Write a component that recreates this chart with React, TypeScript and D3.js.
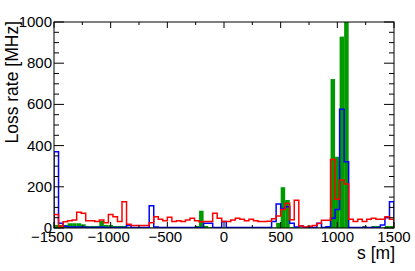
import { useEffect, useRef } from "react";
import * as d3 from "d3";

// 75 bins of 40 m, from -1500 m to 1500 m
const binWidth = 40;
const binLow = d3.range(-1500, 1500, binWidth);

// loss rate per bin [MHz]
const redRates = [
  66, 8, 30, 35, 39, 76, 71, 35, 35, 31, 39, 26, 66, 55, 31, 128, 18, 12, 12, 12,
  12, 25, 55, 42, 35, 52, 31, 35, 31, 39, 47, 35, 30, 31, 31, 71, 47, 31, 31, 39,
  47, 42, 35, 42, 35, 31, 31, 33, 45, 58, 90, 120, 40, 135, 10, 5, 8, 12, 22, 38,
  38, 333, 139, 233, 213, 42, 31, 42, 31, 42, 47, 42, 42, 55, 42,
];
const blueRates = [
  370, 23, 8, 5, 5, 5, 5, 3, 3, 3, 5, 3, 3, 3, 3, 3, 12, 3, 3, 3,
  3, 108, 5, 3, 3, 3, 3, 3, 3, 3, 3, 3, 3, 23, 23, 3, 3, 31, 3, 3,
  3, 3, 3, 3, 3, 3, 3, 3, 31, 117, 95, 103, 23, 5, 10, 3, 3, 3, 23, 3,
  6, 47, 90, 576, 322, 3, 3, 3, 3, 3, 3, 3, 15, 50, 128,
];
const greenRates = [
  15, 15, 15, 23, 23, 23, 18, 10, 10, 10, 34, 15, 15, 10, 10, 10, 5, 5, 5, 5,
  3, 3, 3, 5, 5, 3, 3, 3, 3, 3, 3, 10, 84, 10, 5, 3, 3, 3, 3, 3,
  3, 3, 3, 3, 3, 3, 3, 3, 3, 25, 198, 136, 5, 3, 3, 3, 3, 3, 3, 3,
  5, 723, 346, 929, 1200, 5, 3, 3, 10, 3, 10, 10, 3, 10, 10,
];

const xTicks = [-1500, -1000, -500, 0, 500, 1000, 1500];
const yTicks = [0, 200, 400, 600, 800, 1000];

const W = 415;
const H = 271;
const margin = { top: 22, right: 21, bottom: 43, left: 54 };
const FONT = "'Liberation Sans', Arial, Helvetica, sans-serif";

export default function App() {
  const ref = useRef<SVGSVGElement>(null);

  useEffect(() => {
    const svg = d3.select(ref.current);
    svg.selectAll("*").remove();

    const x0 = margin.left;
    const x1 = W - margin.right;
    const y0 = H - margin.bottom;
    const y1 = margin.top;

    const x = d3.scaleLinear().domain([-1500, 1500]).range([x0, x1]);
    const y = d3.scaleLinear().domain([0, 1000]).range([y0, y1]);

    svg.append("rect").attr("width", W).attr("height", H).attr("fill", "#fff");

    svg.append("clipPath").attr("id", "frame-clip")
      .append("rect")
      .attr("x", x0).attr("y", y1)
      .attr("width", x1 - x0).attr("height", y0 - y1);

    const plot = svg.append("g").attr("clip-path", "url(#frame-clip)");

    // filled histogram
    plot.selectAll("rect.green")
      .data(greenRates)
      .enter().append("rect")
      .attr("class", "green")
      .attr("x", (_, i) => x(binLow[i]))
      .attr("width", (_, i) => x(binLow[i] + binWidth) - x(binLow[i]))
      .attr("y", d => y(d))
      .attr("height", d => y(0) - y(d))
      .attr("fill", "#009900");

    const stepPath = (values: number[]) => {
      const pts: [number, number][] = [[binLow[0], 0]];
      values.forEach((v, i) => {
        pts.push([binLow[i], v]);
        pts.push([binLow[i] + binWidth, v]);
      });
      pts.push([binLow[binLow.length - 1] + binWidth, 0]);
      return d3.line<[number, number]>()
        .x(d => x(d[0]))
        .y(d => y(d[1]))(pts);
    };

    plot.append("path")
      .attr("d", stepPath(blueRates))
      .attr("fill", "none")
      .attr("stroke", "#0000ff")
      .attr("stroke-width", 1.5);

    plot.append("path")
      .attr("d", stepPath(redRates))
      .attr("fill", "none")
      .attr("stroke", "#ff0000")
      .attr("stroke-width", 1.5);

    // frame
    svg.append("rect")
      .attr("x", x0).attr("y", y1)
      .attr("width", x1 - x0).attr("height", y0 - y1)
      .attr("fill", "none")
      .attr("stroke", "#000")
      .attr("stroke-width", 1);

    const axes = svg.append("g").attr("stroke", "#000").attr("stroke-width", 1);

    // x ticks, major every 500, minor every 250
    d3.range(-1500, 1501, 250).forEach(v => {
      const len = v % 500 === 0 ? 6 : 3;
      axes.append("line").attr("x1", x(v)).attr("x2", x(v)).attr("y1", y0).attr("y2", y0 - len);
      axes.append("line").attr("x1", x(v)).attr("x2", x(v)).attr("y1", y1).attr("y2", y1 + len);
    });

    // y ticks, major every 200, minor every 50
    d3.range(0, 1001, 50).forEach(v => {
      const len = v % 200 === 0 ? 10 : 5;
      axes.append("line").attr("x1", x0).attr("x2", x0 + len).attr("y1", y(v)).attr("y2", y(v));
      axes.append("line").attr("x1", x1).attr("x2", x1 - len).attr("y1", y(v)).attr("y2", y(v));
    });

    const labels = svg.append("g")
      .attr("font-family", FONT)
      .attr("font-size", 15)
      .attr("fill", "#000");

    labels.selectAll("text.xl")
      .data(xTicks)
      .enter().append("text")
      .attr("class", "xl")
      .attr("x", d => x(d) - (d < 0 ? 2 : 0))
      .attr("y", y0 + 14)
      .attr("text-anchor", "middle")
      .text(d => (d < 0 ? "\u2212" + Math.abs(d) : String(d)));

    labels.selectAll("text.yl")
      .data(yTicks)
      .enter().append("text")
      .attr("class", "yl")
      .attr("x", x0 - 2)
      .attr("y", d => y(d) + 5)
      .attr("text-anchor", "end")
      .text(d => String(d));

    // axis titles
    labels.append("text")
      .attr("x", x1 + 1)
      .attr("y", y0 + 31)
      .attr("font-size", 17.5)
      .attr("text-anchor", "end")
      .text("s [m]");

    labels.append("text")
      .attr("transform", `translate(17.5,${y1 - 1}) rotate(-90)`)
      .attr("font-size", 17.5)
      .attr("text-anchor", "end")
      .text("Loss rate [MHz]");
  }, []);

  return (
    <svg
      ref={ref}
      width={W}
      height={H}
      style={{ position: "absolute", left: 0, top: 0 }}
    />
  );
}
